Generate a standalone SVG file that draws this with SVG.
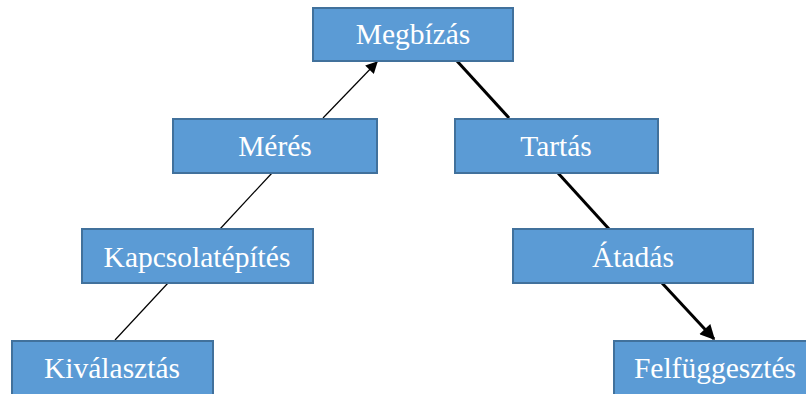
<svg xmlns="http://www.w3.org/2000/svg" width="806" height="394" viewBox="0 0 806 394">
<style>
.box{fill:#5B9BD5;stroke:#41719C;stroke-width:2}
.lbl{font-family:"Liberation Serif","Times New Roman",serif;font-size:29.5px;fill:#FFFFFF;text-anchor:middle}
.thin{stroke:#000;stroke-width:1.2;fill:none}
.thick{stroke:#000;stroke-width:3;fill:none}
</style>
<defs>
<marker id="arrThin" viewBox="0 0 10 10" refX="9" refY="5" markerWidth="14" markerHeight="12" markerUnits="userSpaceOnUse" orient="auto"><path d="M0,0 L10,5 L0,10 z" fill="#000"/></marker>
<marker id="arrThick" viewBox="0 0 10 10" refX="9" refY="5" markerWidth="18" markerHeight="15" markerUnits="userSpaceOnUse" orient="auto"><path d="M0,0 L10,5 L0,10 z" fill="#000"/></marker>
</defs>
<rect width="806" height="394" fill="#FFFFFF"/>
<g id="connectors">
<line class="thin" x1="115" y1="340" x2="168" y2="283"/>
<line class="thin" x1="220" y1="229" x2="272" y2="173"/>
<path class="thin" d="M323,118 L377,62" marker-end="url(#arrThin)"/>
<line class="thick" x1="457" y1="61" x2="509" y2="118"/>
<line class="thick" x1="558" y1="173" x2="609" y2="229"/>
<path class="thick" d="M662,283 L714,339" marker-end="url(#arrThick)"/>
</g>
<g id="megbizas"><rect class="box" x="313" y="8" width="200" height="53"/><text class="lbl" x="413" y="44">Megbízás</text></g>
<g id="meres"><rect class="box" x="173" y="119" width="204" height="54"/><text class="lbl" x="275" y="156">Mérés</text></g>
<g id="tartas"><rect class="box" x="455" y="119" width="203" height="54"/><text class="lbl" x="556" y="156">Tartás</text></g>
<g id="kapcsolatepites"><rect class="box" x="82" y="229" width="231" height="54"/><text class="lbl" x="197" y="267">Kapcsolatépítés</text></g>
<g id="atadas"><rect class="box" x="513" y="229" width="240" height="54"/><text class="lbl" x="633" y="267">Átadás</text></g>
<g id="kivalasztas"><rect class="box" x="12" y="341" width="201" height="56"/><text class="lbl" x="112" y="378">Kiválasztás</text></g>
<g id="felfuggesztes"><rect class="box" x="614" y="341" width="203" height="56"/><text class="lbl" x="715" y="378">Felfüggesztés</text></g>
</svg>
